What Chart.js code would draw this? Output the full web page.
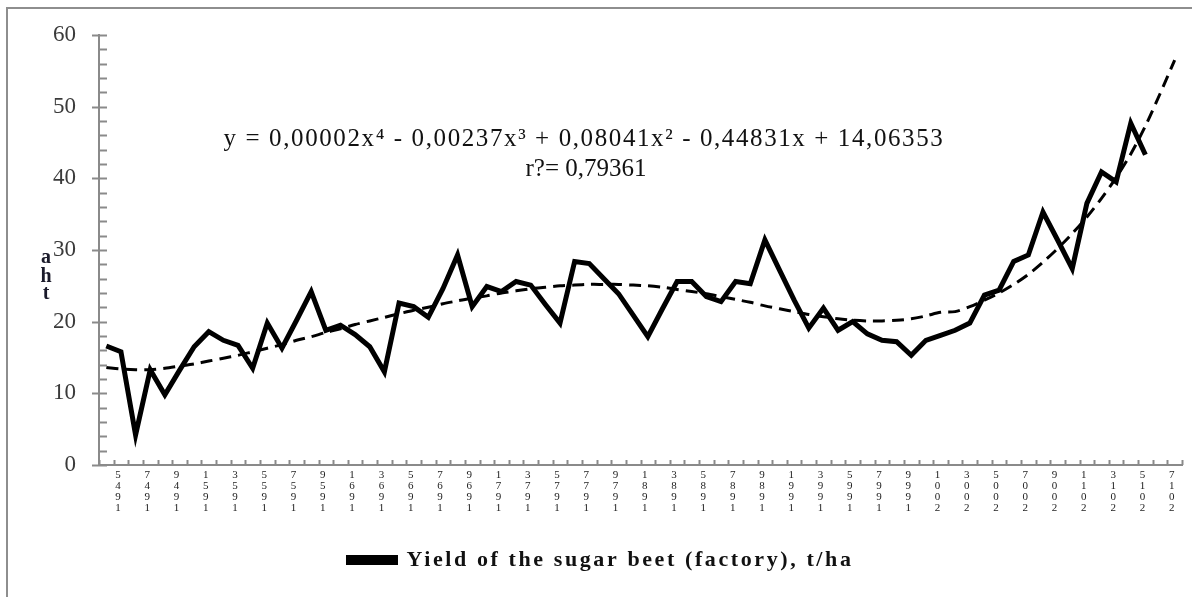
<!DOCTYPE html>
<html><head><meta charset="utf-8">
<script src="https://cdn.jsdelivr.net/npm/chart.js@4/dist/chart.umd.min.js"></script>
<style>
html,body{margin:0;padding:0;background:#fff;overflow:hidden}
#wrap{position:relative;width:1192px;height:597px}
#frame{position:absolute;left:6px;top:7px;width:1200px;height:600px;border-left:2px solid #8e8e8e;border-top:2px solid #8e8e8e;pointer-events:none}
canvas{position:absolute;left:0;top:0}
</style></head><body>
<div id="wrap"><canvas id="c" width="1192" height="597"></canvas><div id="frame"></div></div>
<script>
const years = ['1944','1945','1946','1947','1948','1949','1950','1951','1952','1953','1954','1955','1956','1957','1958','1959',
  '1960','1961','1962','1963','1964','1965','1966','1967','1968','1969','1970','1971','1972','1973','1974','1975','1976','1977',
  '1978','1979','1980','1981','1982','1983','1984','1985','1986','1987','1988','1989','1990','1991','1992','1993','1994','1995',
  '1996','1997','1998','1999','2000','2001','2002','2003','2004','2005','2006','2007','2008','2009','2010','2011','2012','2013',
  '2014','2015','2016','2017'];
const yieldValues = [16.6,15.8,4.2,13.3,9.8,13.2,16.5,18.6,17.4,16.7,13.5,19.8,16.3,20.2,24.2,18.8,19.5,18.2,16.5,13.0,
  22.6,22.1,20.6,24.6,29.3,22.1,24.9,24.2,25.6,25.1,22.4,19.8,28.4,28.1,26.0,23.9,20.9,17.9,21.8,25.6,
  25.6,23.5,22.8,25.6,25.3,31.4,27.2,23.0,19.1,21.9,18.8,20.0,18.3,17.4,17.2,15.3,17.4,18.1,18.8,19.8,
  23.7,24.4,28.4,29.3,35.3,31.4,27.4,36.5,40.9,39.5,47.7,43.3];
const trendValues = [13.6,13.4,13.3,13.3,13.5,13.8,14.1,14.5,14.9,15.3,15.8,16.3,16.8,17.4,17.9,18.5,19.0,19.6,20.1,20.6,
  21.1,21.6,22.0,22.5,22.9,23.3,23.6,24.0,24.3,24.6,24.8,25.0,25.1,25.2,25.2,25.2,25.1,25.0,24.8,24.5,
  24.2,23.9,23.5,23.1,22.7,22.2,21.8,21.4,21.0,20.7,20.4,20.2,20.1,20.1,20.2,20.4,20.8,21.3,21.4,22.1,
  23.0,24.0,25.2,26.6,28.3,30.2,32.3,34.6,37.2,40.1,43.4,47.3,51.8,56.5];
const yMin = 0, yMax = 60, yStep = 10, yMinorStep = 2;
const legendLabel = 'Yield of the sugar beet (factory), t/ha';
const equationLines = ['y = 0,00002x\u2074 - 0,00237x\u00b3 + 0,08041x\u00b2 - 0,44831x + 14,06353', 'r?= 0,79361'];
const yTitleChars = ['a', 'h', 't'];

const SERIF = '"Liberation Serif", "Times New Roman", serif';
const AXIS_GRAY = '#8a8a8a';

const decor = {
  id: 'decor',
  beforeLayout(chart) {
    const lg = chart.legend;
    if (lg && !lg._spaced) {
      const wrap = (fn) => function (...a) {
        const c = this.ctx; const prev = c.letterSpacing;
        c.letterSpacing = '2.6px';
        try { return fn.apply(this, a); } finally { c.letterSpacing = prev || '0px'; }
      };
      lg.fit = wrap(lg.fit);
      lg.draw = wrap(lg.draw);
      lg._spaced = true;
    }
  },
  afterDraw(chart) {
    const ctx = chart.ctx;
    const xs = chart.scales.x, ys = chart.scales.y;
    ctx.save();
    ctx.strokeStyle = AXIS_GRAY;
    ctx.lineWidth = 2;
    const ax = ys.right;
    for (let v = yMin; v <= yMax; v += yMinorStep) {
      const y = Math.round(ys.getPixelForValue(v)) + 0.5;
      ctx.beginPath();
      if (v % yStep === 0) { ctx.moveTo(ax - 7, y); ctx.lineTo(ax + 8, y); }
      else { ctx.moveTo(ax, y); ctx.lineTo(ax + 8, y); }
      ctx.stroke();
    }
    const ay = xs.top;
    for (let i = 0; i <= years.length; i++) {
      const x = Math.round(xs.getPixelForValue(i - 0.5)) + 0.5;
      ctx.beginPath(); ctx.moveTo(x, ay); ctx.lineTo(x, ay - 5); ctx.stroke();
    }
    // equation text
    ctx.fillStyle = '#111';
    ctx.textAlign = 'center';
    ctx.textBaseline = 'alphabetic';
    ctx.font = '25px ' + SERIF;
    ctx.letterSpacing = '1.6px';
    ctx.fillText(equationLines[0], 584, 146);
    ctx.letterSpacing = '0px';
    ctx.fillText(equationLines[1], 586, 176);
    // stacked axis title
    ctx.font = 'bold 20px ' + SERIF;
    ctx.fillStyle = '#1a1a2a';
    const ty = [263, 282, 299];
    yTitleChars.forEach((ch, i) => ctx.fillText(ch, 46, ty[i]));
    ctx.restore();
  }
};

new Chart(document.getElementById('c'), {
  type: 'line',
  data: {
    labels: years,
    datasets: [
      { label: legendLabel, data: yieldValues, borderColor: '#000', backgroundColor: '#000',
        borderWidth: 5, pointRadius: 0, tension: 0, fill: false, order: 0 },
      { label: 'trend', data: trendValues, borderColor: '#000', borderWidth: 3, borderDash: [12, 7],
        pointRadius: 0, tension: 0.3, fill: false, order: 1 }
    ]
  },
  options: {
    responsive: false, animation: false, devicePixelRatio: 1,
    layout: { padding: { left: 20, right: 10, top: 35, bottom: 16 } },
    plugins: {
      tooltip: { enabled: false },
      legend: {
        position: 'bottom',
        labels: {
          filter: (item) => item.datasetIndex === 0,
          boxWidth: 47, boxHeight: 5, padding: 10,
          color: '#111',
          font: { family: SERIF, size: 22, weight: 'bold' }
        }
      }
    },
    scales: {
      x: {
        offset: true,
        grid: { display: false, offset: true },
        border: { display: true, color: AXIS_GRAY, width: 2 },
        ticks: {
          autoSkip: false, maxRotation: 0, minRotation: 0, padding: -4, labelOffset: -3,
          color: '#222',
          font: { family: SERIF, size: 11, lineHeight: 1.02 },
          callback: function (val, idx) {
            if (idx % 2 !== 1) return '';
            return this.getLabelForValue(val).split('').reverse();
          }
        },
        afterFit: (s) => { s.height = 74; }
      },
      y: {
        min: yMin, max: yMax,
        grid: { display: false },
        border: { display: true, color: AXIS_GRAY, width: 2 },
        ticks: { stepSize: yStep, padding: 15, color: '#3a3a3a', font: { family: SERIF, size: 23 } },
        afterFit: (s) => { s.width = 79; }
      }
    }
  },
  plugins: [decor]
});
</script>
</body></html>
